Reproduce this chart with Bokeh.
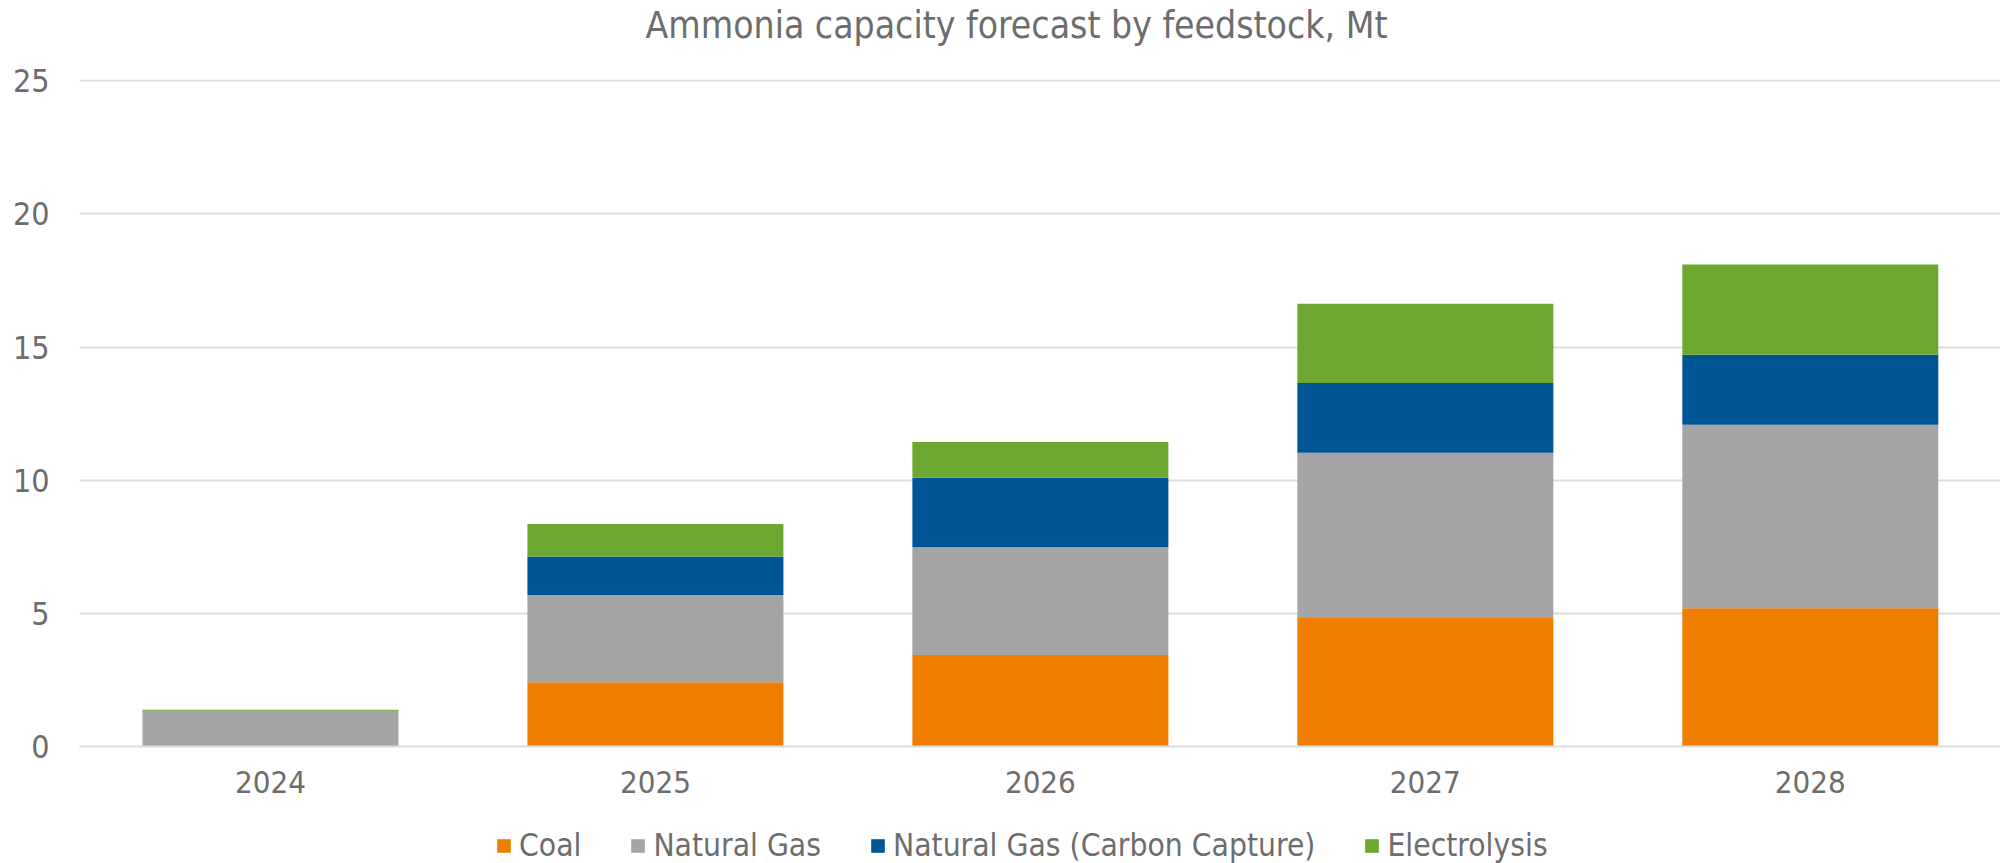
from bokeh.plotting import figure
from bokeh.layouts import column
from bokeh.models import Legend, LegendItem, ColumnDataSource, FixedTicker, Range1d, Label
from bokeh.embed import file_html
from bokeh.resources import INLINE

# ---- data ----
title_text = "Ammonia capacity forecast by feedstock, Mt"
years = ["2024", "2025", "2026", "2027", "2028"]
coal = [0.0, 2.41, 3.44, 4.83, 5.19]
natural_gas = [1.34, 3.28, 4.04, 6.20, 6.89]
natural_gas_cc = [0.0, 1.45, 2.61, 2.62, 2.63]
electrolysis = [0.04, 1.22, 1.35, 2.98, 3.39]
series_names = ["Coal", "Natural Gas", "Natural Gas (Carbon Capture)", "Electrolysis"]
y_ticks = [0, 5, 10, 15, 20, 25]

colors = ["#EF7D00", "#A5A5A5", "#005595", "#6EA72F"]
FONT = "DejaVu Sans Condensed"
TEXT = "#6D6D6D"
GRID = "#DCDCDC"

keys = ["coal", "gas", "gascc", "elec"]
x_pos = list(range(len(years)))
src = ColumnDataSource(dict(x=x_pos, coal=coal, gas=natural_gas,
                            gascc=natural_gas_cc, elec=electrolysis))

# ---- title strip ----
pt = figure(width=2000, height=55, output_backend="svg", toolbar_location=None,
            x_range=Range1d(0, 1), y_range=Range1d(0, 1), min_border=0,
            x_axis_location=None, y_axis_location=None)
pt.outline_line_color = None
pt.xgrid.grid_line_color = None
pt.ygrid.grid_line_color = None
pt.add_layout(Label(x=937, y=30, x_units="screen", y_units="screen",
                    text=title_text, text_align="center",
                    text_baseline="alphabetic", text_font=FONT,
                    text_font_size="37px", text_color=TEXT))

# ---- main chart ----
p = figure(width=2000, height=755, output_backend="svg", toolbar_location=None,
           x_range=Range1d(-0.496, 4.494), y_range=Range1d(0, 25.05),
           min_border_left=79, min_border_right=0, min_border_top=24,
           min_border_bottom=64)
p.outline_line_color = None
p.background_fill_color = "white"
p.border_fill_color = "white"

renderers = p.vbar_stack(keys, x="x", width=0.665, source=src, color=colors,
                         line_color=None)

xa = p.xaxis[0]
xa.ticker = FixedTicker(ticks=x_pos)
xa.major_label_overrides = {i: y for i, y in enumerate(years)}
xa.axis_line_color = GRID
xa.axis_line_width = 2
xa.major_tick_line_color = None
xa.minor_tick_line_color = None
xa.major_label_standoff = 18
xa.major_label_text_font = FONT
xa.major_label_text_font_size = "31px"
xa.major_label_text_color = TEXT

ya = p.yaxis[0]
ya.ticker = FixedTicker(ticks=y_ticks)
ya.axis_line_color = None
ya.major_tick_line_color = None
ya.minor_tick_line_color = None
ya.major_label_standoff = 24
ya.major_label_text_font = FONT
ya.major_label_text_font_size = "32px"
ya.major_label_text_color = TEXT

p.xgrid.grid_line_color = None
p.ygrid.grid_line_color = GRID
p.ygrid.grid_line_width = 2
p.ygrid.ticker = FixedTicker(ticks=y_ticks)

# ---- legend strip ----
# the same stacked bars are drawn here outside the visible range; only the legend shows
pl = figure(width=2000, height=53, output_backend="svg", toolbar_location=None,
            x_range=Range1d(0, 1), y_range=Range1d(100, 101),
            min_border=0, x_axis_location=None, y_axis_location=None)
pl.outline_line_color = None
pl.xgrid.grid_line_color = None
pl.ygrid.grid_line_color = None
swatches = pl.vbar_stack(keys, x="x", width=0.665, source=src, color=colors,
                         line_color=None)
items = [LegendItem(label=n, renderers=[r]) for n, r in zip(series_names, swatches)]
legend = Legend(items=items, location=(416, 0), orientation="horizontal",
                glyph_width=17, glyph_height=17, label_standoff=7, spacing=48,
                padding=0, margin=0, border_line_color=None,
                background_fill_alpha=0, label_text_font=FONT,
                label_text_font_size="31.5px", label_text_color=TEXT)
pl.add_layout(legend, "center")

layout = column(pt, p, pl, spacing=0)
open("out.html", "w").write(file_html(layout, INLINE))
